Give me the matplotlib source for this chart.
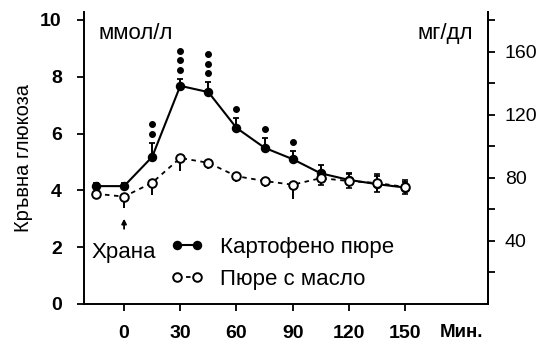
import matplotlib
matplotlib.use("Agg")
import matplotlib.pyplot as plt
import numpy as np

plt.rcParams['font.family'] = ['Liberation Sans', 'DejaVu Sans']

# time points, minutes
minutes = [-15, 0, 15, 30, 45, 60, 75, 90, 105, 120, 135, 150]

# Картофено пюре (mmol/l) and upper error
puree = [4.15, 4.15, 5.18, 7.68, 7.46, 6.2, 5.5, 5.1, 4.6, 4.37, 4.22, 4.1]
puree_err = [0.1, 0.1, 0.5, 0.25, 0.35, 0.35, 0.35, 0.3, 0.3, 0.25, 0.3, 0.2]
stars = [0, 0, 2, 3, 3, 1, 1, 1, 0, 0, 0, 0]

# Пюре с масло (mmol/l) and lower error
butter = [3.88, 3.78, 4.27, 5.14, 4.97, 4.5, 4.33, 4.2, 4.43, 4.33, 4.26, 4.12]
butter_err = [0.2, 0.4, 0.45, 0.45, 0.2, 0.2, 0.2, 0.5, 0.25, 0.25, 0.3, 0.25]

left_ticks = [0, 2, 4, 6, 8, 10]
right_ticks = [40, 80, 120, 160]
x_ticks = [0, 30, 60, 90, 120, 150]
MG_PER_MMOL = 18.0

fig = plt.figure(figsize=(5.37, 3.43), dpi=100)
ax = fig.add_axes([84 / 537, 1 - 304 / 343, 404 / 537, 292 / 343])

x = np.array(minutes)
p = np.array(puree)
b = np.array(butter)

# error bars (one-sided)
ax.errorbar(x, p, yerr=[np.zeros_like(p), puree_err], fmt='none',
            ecolor='black', elinewidth=1.4, capsize=2, capthick=1.3, zorder=2)
ax.errorbar(x, b, yerr=[butter_err, np.zeros_like(b)], fmt='none',
            ecolor='black', elinewidth=1.4, capsize=0, zorder=2)
# later points have bars both ways
late = x >= 105
ax.errorbar(x[late], b[late], yerr=np.array(butter_err)[late], fmt='none',
            ecolor='black', elinewidth=1.2, capsize=2, capthick=1.2, zorder=2)

ax.plot(x, p, '-', color='black', lw=1.5, marker='o', ms=5.8,
        mfc='black', mec='black', label='Картофено пюре', zorder=3)
ax.plot(x, b, linestyle=(0, (2.5, 2.5)), color='black', lw=1.3, marker='o',
        ms=6.2, mfc='white', mec='black', mew=1.4, label='Пюре с масло', zorder=4)

# significance marks above the error bars
for xi, yi, ei, n in zip(minutes, puree, puree_err, stars):
    for k in range(n):
        ax.plot(xi, yi + ei + 0.32 + k * 0.33, 'o', color='black', ms=4, zorder=5)

# meal arrow
ax.annotate('', xy=(0, 3.1), xytext=(0, 2.55),
            arrowprops=dict(arrowstyle='-|>', color='black', lw=1.3,
                            mutation_scale=7))
ax.text(0, 1.8, 'Храна', ha='center', va='center', fontsize=16)

ax.set_xlim(-21.4, 194.3)
ax.set_ylim(0, 10.28)
ax.set_xticks(x_ticks)
ax.set_yticks(left_ticks)
ax.tick_params(axis='both', direction='out', length=5, width=1.3,
               labelsize=14)
ax.tick_params(axis='x', pad=10)
ax.tick_params(axis='y', pad=11)
for lab in ax.get_xticklabels() + ax.get_yticklabels():
    lab.set_fontweight('bold')
ax.spines['top'].set_visible(False)
for s in ['left', 'bottom', 'right']:
    ax.spines[s].set_linewidth(1.4)

ax.set_ylabel('Кръвна глюкоза', fontsize=14.5, labelpad=5)
ax.text(0.988, -0.098, 'Мин.', transform=ax.transAxes, fontsize=13.5,
        fontweight='bold', ha='right', va='center')

ax2 = ax.twinx()
ax2.set_ylim(0, 10.28 * MG_PER_MMOL)
ax2.set_yticks(right_ticks)
ax2.set_yticks([20, 60, 100, 140, 180], minor=True)
ax2.tick_params(axis='y', direction='out', length=5, width=1.3,
                labelsize=14, pad=7)
ax2.tick_params(axis='y', which='minor', length=5, width=1.3)
for lab in ax2.get_yticklabels():
    lab.set_family(['Liberation Sans Narrow', 'Liberation Sans'])
for s in ['top', 'left', 'bottom']:
    ax2.spines[s].set_visible(False)
ax2.spines['right'].set_linewidth(1.4)

ax.text(0.035, 0.925, 'ммол/л', transform=ax.transAxes, fontsize=16,
        ha='left', va='center')
ax.text(0.963, 0.925, 'мг/дл', transform=ax.transAxes, fontsize=16,
        ha='right', va='center')

ax.legend(loc='lower left', bbox_to_anchor=(0.213, 0.048), frameon=False,
          numpoints=2, fontsize=16, handlelength=1.5, handletextpad=0.73,
          labelspacing=0.5, borderpad=0, borderaxespad=0)

fig.savefig('out.png', dpi=100)
